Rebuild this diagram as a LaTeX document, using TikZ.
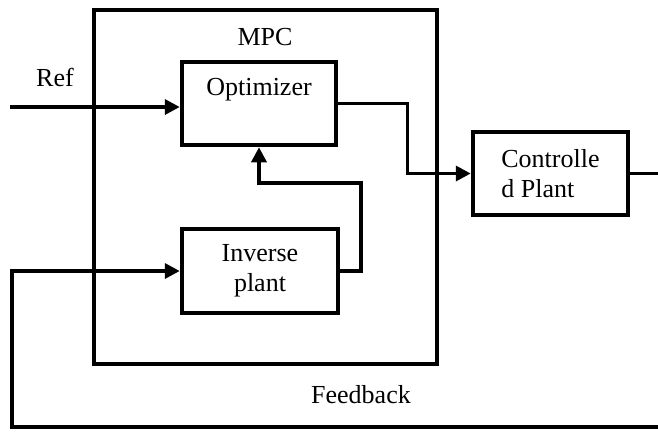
\documentclass[tikz,border=0pt]{standalone}
\usepackage{fontspec}
\setmainfont{Liberation Serif}
\usetikzlibrary{arrows.meta}
\begin{document}
\begin{tikzpicture}[x=1pt,y=-1pt,
  box/.style={draw, line width=4.5pt, minimum width=#1, inner sep=0pt},
  txt/.style={font=\fontsize{26}{30}\selectfont, inner sep=0pt},
  conn/.style={line width=3.5pt},
  arr/.style={conn, -{Triangle[length=15pt,width=15pt]}}]
\useasboundingbox (0,0) rectangle (658,432);
\node[box=343pt, minimum height=354pt] (mpc) at (265.5,187) {};
\node[txt] (mpct) at (265,37) {MPC};
\node[box=154pt, minimum height=83pt] (opt) at (259,103.5) {};
\node[txt] (optt) at (259,90) {Optimizer};
\node[box=156pt, minimum height=84pt, txt, align=center] (inv) at (260,271) {Inverse\\plant};
\node[box=155pt, minimum height=83pt, txt, align=left] (plant) at (550.5,173.5) {Controlle\\d Plant};
\node[txt] (ref) at (55,77) {Ref};
\node[txt] (fb) at (361,395) {Feedback};
\coordinate (refin) at (10,107);
\coordinate (j) at (361,183);
\coordinate (out) at (658,173.5);
\coordinate (fbr) at (658,427);
\coordinate (fbl) at (12,427);
\draw[arr] (refin) -- (refin -| opt.west);
\draw[arr] (opt.east) -- ++(69,0) |- (plant.west);
\draw[arr] (inv.east) -| (j) -| (opt.south);
\draw[conn] (plant.east) -- (out);
\draw[arr] (fbr) -- (fbl) |- (inv.west);
\end{tikzpicture}
\end{document}
